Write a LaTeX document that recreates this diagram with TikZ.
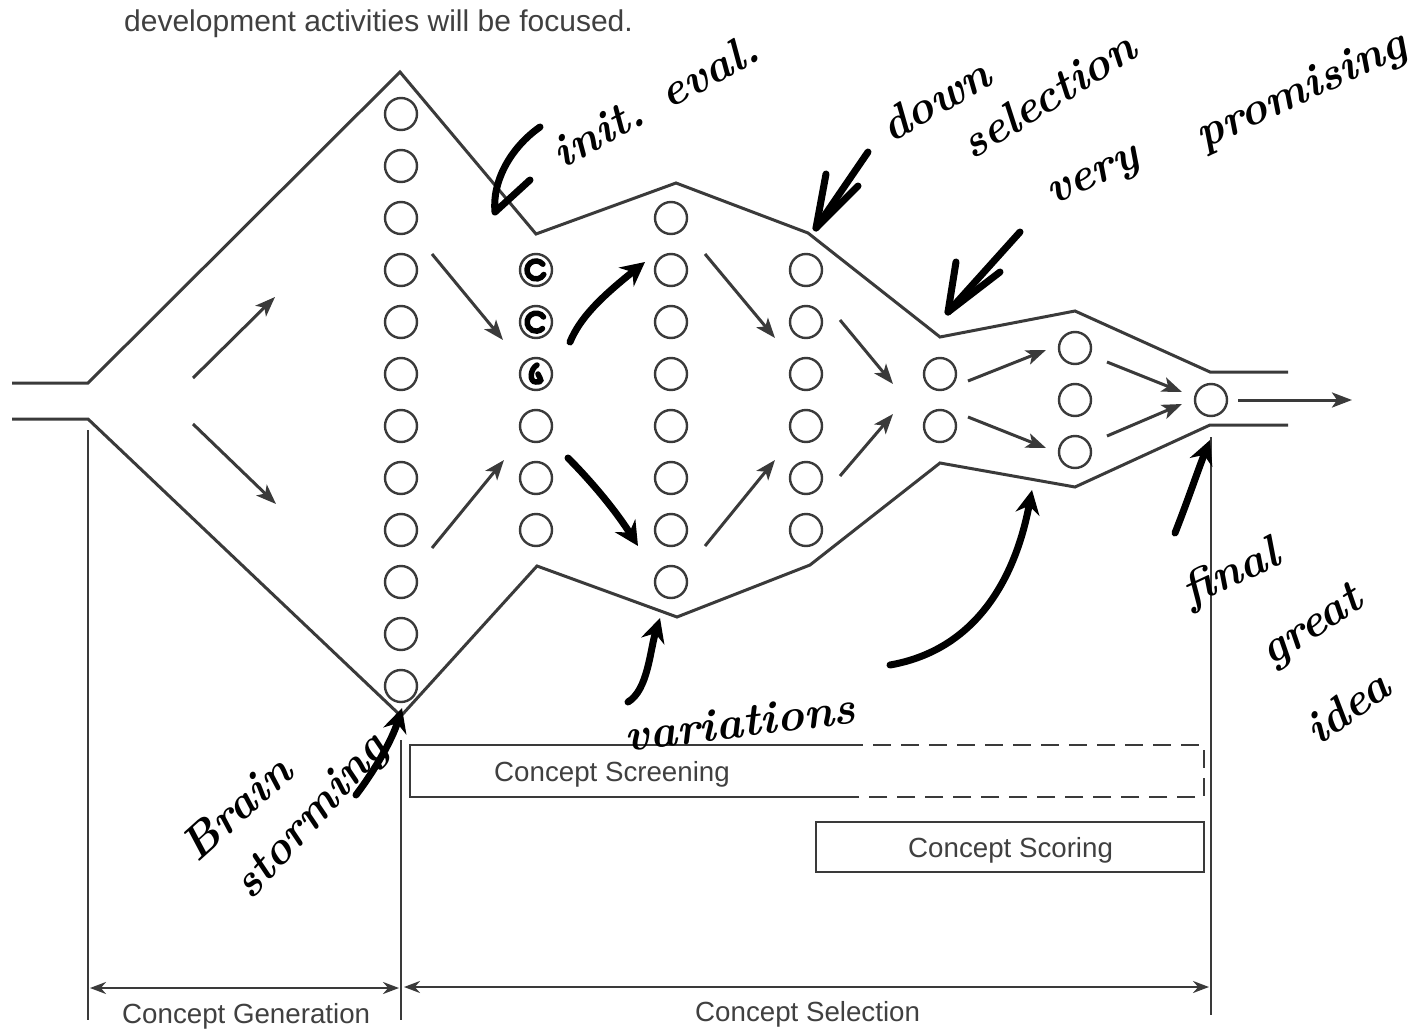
\documentclass[tikz,border=0pt]{standalone}
\usepackage{fontspec}
\setsansfont{Liberation Sans}
\usetikzlibrary{arrows.meta}
\definecolor{ink}{HTML}{3A3A3A}
\definecolor{txt}{HTML}{404040}
\tikzset{
  funnel/.style={draw=ink, line width=3pt, line join=miter},
  idea/.style={circle, draw=ink, line width=2.4pt, minimum size=32pt, inner sep=0pt},
  flow/.style={draw=ink, line width=3pt, -{Stealth[length=20pt,width=15pt,inset=5pt]}},
  dimline/.style={draw=ink, line width=2.4pt, {Stealth[length=16pt,width=12pt]}-{Stealth[length=16pt,width=12pt]}},
  guide/.style={draw=ink, line width=2pt},
  boxline/.style={draw=ink, line width=2.2pt},
  printed/.style={font=\sffamily\fontsize{27.7}{30}\selectfont, text=txt, inner sep=0pt},
  hw/.style={draw=black, line width=7pt, line cap=round, line join=round},
  hwarrow/.style={hw, -{Stealth[length=24pt,width=24pt,inset=8pt]}},
  mk/.style={draw=black, line width=5.5pt, line cap=round},
  hwtext/.style={font=\rmfamily\bfseries\itshape\fontsize{46}{46}\selectfont, text=black, inner sep=0pt}
}
\begin{document}
\begin{tikzpicture}[x=1pt,y=-1pt]
\useasboundingbox (0,0) rectangle (1424,1030);
\fill[white] (0,0) rectangle (1424,1030);

% caption line
\node[printed, font=\sffamily\fontsize{30}{32}\selectfont, anchor=base west] (caption) at (124,32) {development activities will be focused.};

% funnel outline
\draw[funnel] (12,383) -- (88,383) -- (400,72) -- (536,234) -- (676,183) -- (808,233) -- (940,337) -- (1075,311) -- (1210,372) -- (1288,372);
\draw[funnel] (12,419) -- (88,419) -- (401,716) -- (537,566) -- (677,617) -- (810,565) -- (940,463) -- (1075,487) -- (1210,425) -- (1288,425);

% concept circles
\foreach \i in {0,...,11} \node[idea] (a\i) at (401,{114+52*\i}) {};
\foreach \i in {0,...,5}  \node[idea] (b\i) at (536,{270+52*\i}) {};
\foreach \i in {0,...,7}  \node[idea] (c\i) at (671,{218+52*\i}) {};
\foreach \i in {0,...,5}  \node[idea] (d\i) at (806,{270+52*\i}) {};
\foreach \i in {0,1}      \node[idea] (e\i) at (940,{374+52*\i}) {};
\foreach \i in {0,1,2}    \node[idea] (f\i) at (1075,{348+52*\i}) {};
\node[idea] (g0) at (1211,400) {};

% printed flow arrows
\foreach \n/\xa/\ya/\xb/\yb in {
  1/193/378/275/297, 2/193/424/276/504,
  3/432/254/503/340, 4/432/548/504/460,
  5/705/254/775/338, 6/705/546/775/460,
  7/840/320/893/384, 8/840/476/893/414,
  9/968/381/1046/350, 10/968/417/1046/448,
  11/1107/362/1182/392, 12/1107/436/1182/404,
  13/1238/400/1352/400}
{
  \coordinate (p\n s) at (\xa,\ya);
  \coordinate (p\n e) at (\xb,\yb);
  \draw[flow] (p\n s) -- (p\n e);
}

% guide lines
\coordinate (vL1) at (88,430);  \coordinate (vL2) at (88,1020);
\coordinate (vM1) at (401,740); \coordinate (vM2) at (401,1020);
\coordinate (vR1) at (1211,437); \coordinate (vR2) at (1211,1015);
\draw[guide] (vL1) -- (vL2);
\draw[guide] (vM1) -- (vM2);
\draw[guide] (vR1) -- (vR2);

% dimension arrows
\coordinate (dL) at (90,988); \coordinate (dM1) at (399,988);
\coordinate (dM2) at (404,987); \coordinate (dR) at (1209,987);
\draw[dimline] (dL) -- (dM1);
\draw[dimline] (dM2) -- (dR);
\node[printed, anchor=base west] (gen) at (122,1023) {Concept Generation};
\node[printed, anchor=base west] (sel) at (695,1021) {Concept Selection};

% screening box (solid then dashed)
\draw[boxline] (845,745) -- (410,745) -- (410,797) -- (845,797);
\draw[boxline, dash pattern=on 18pt off 10pt] (845,745) -- (1204,745) -- (1204,797) -- (845,797);
\node[printed, anchor=base west] (screen) at (494,781) {Concept Screening};

% scoring box
\node[boxline, minimum width=388pt, minimum height=50pt, inner sep=0pt] (scorebox) at (1010,847) {};
\node[printed, anchor=base west] (score) at (908,857) {Concept Scoring};

% ---------- handwritten annotations ----------
% marks inside first three circles of column 2
\draw[mk] (b0.center) ++(6.9pt,5.8pt) arc[start angle=40, end angle=330, radius=9pt];
\draw[mk] (b1.center) ++(7.5pt,5pt) arc[start angle=35, end angle=315, radius=9pt];
\draw[mk] (b2.center) ++(1pt,9pt) .. controls ++(-7pt,-4pt) and ++(-7pt,0pt) .. ++(-1pt,-17pt) .. controls ++(7pt,0pt) and ++(3pt,-6pt) .. ++(2pt,8pt);

% handwritten arrows replacing printed ones
\coordinate (h1s) at (570,342); \coordinate (h1e) at (645,262);
\coordinate (h2s) at (568,458); \coordinate (h2e) at (638,546);
\draw[hwarrow] (h1s) .. controls (580,318) and (600,298) .. (h1e);
\draw[hwarrow] (h2s) .. controls (585,475) and (612,505) .. (h2e);

% init. eval.
\coordinate (ie1) at (540,127); \coordinate (ie2) at (495,212); \coordinate (ie3) at (530,180);
\draw[hw] (ie1) .. controls (510,148) and (492,182) .. (ie2) -- (ie3);
\node[hwtext, rotate=29] (tinit) at (655,100) {init. eval.};

% down selection
\coordinate (ds1) at (868,152); \coordinate (ds2) at (816,228);
\coordinate (ds3) at (826,174); \coordinate (ds4) at (858,186);
\draw[hw] (ds1) -- (ds2);
\draw[hw] (ds3) -- (ds2) -- (ds4);
\node[hwtext, rotate=30] (tdown) at (935,100) {down};
\node[hwtext, rotate=32] (tsel) at (1048,95) {selection};

% very promising
\coordinate (vp1) at (1020,232); \coordinate (vp2) at (948,312);
\coordinate (vp3) at (956,262); \coordinate (vp4) at (1000,272);
\draw[hw] (vp1) -- (vp2);
\draw[hw] (vp3) -- (vp2) -- (vp4);
\node[hwtext, rotate=25] (tvery) at (1095,180) {very};
\node[hwtext, rotate=25] (tprom) at (1302,92) {promising};

% brain storming
\coordinate (bs1) at (356,795); \coordinate (bs2) at (402,708);
\draw[hwarrow] (bs1) .. controls (375,770) and (392,740) .. (bs2);
\node[hwtext, rotate=42] (tbrain) at (236,808) {Brain};
\node[hwtext, rotate=48] (tstorm) at (312,818) {storming};

% variations
\coordinate (va1) at (628,702); \coordinate (va2) at (660,618);
\draw[hwarrow] (va1) .. controls (648,690) and (650,650) .. (va2);
\node[hwtext, rotate=7] (tvar) at (740,722) {variations};

% long curved arrow
\coordinate (lc1) at (890,665); \coordinate (lc2) at (1032,490);
\draw[hwarrow] (lc1) .. controls (975,650) and (1015,580) .. (lc2);

% final great idea
\coordinate (fg1) at (1175,533); \coordinate (fg2) at (1210,440);
\draw[hwarrow] (fg1) .. controls (1188,500) and (1198,470) .. (fg2);
\node[hwtext, rotate=25] (tfinal) at (1232,575) {final};
\node[hwtext, rotate=33] (tgreat) at (1313,628) {great};
\node[hwtext, rotate=35] (tidea) at (1347,707) {idea};
\end{tikzpicture}
\end{document}
